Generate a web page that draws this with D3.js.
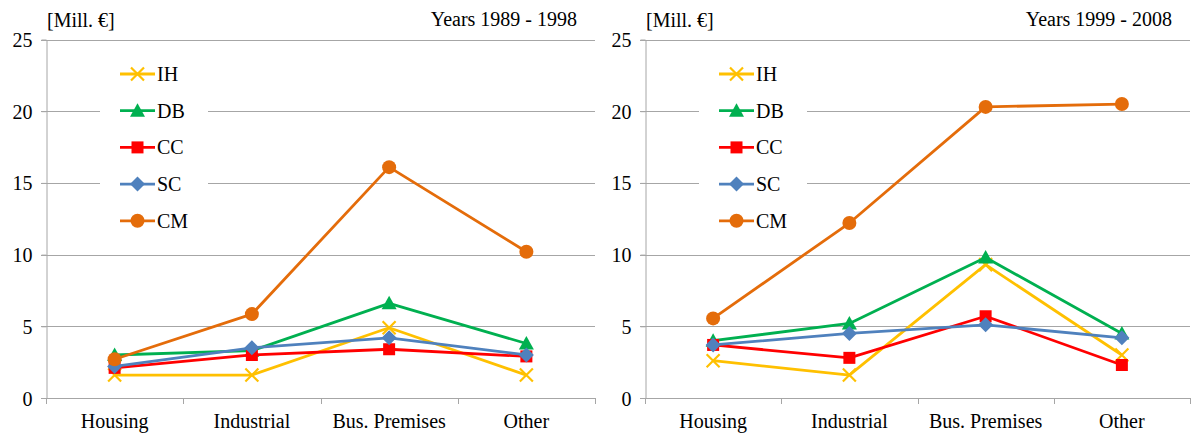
<!DOCTYPE html>
<html><head><meta charset="utf-8">
<script src="https://cdnjs.cloudflare.com/ajax/libs/d3/7.8.5/d3.min.js"></script>
<style>body{margin:0;background:#fff}svg{display:block}</style>
</head><body><svg id="c" width="1192" height="433"></svg>
<script>
const categories = ["Housing","Industrial","Bus. Premises","Other"];
const seriesNames = ["IH","DB","CC","SC","CM"];
const yTicks = [0,5,10,15,20,25];
const periods = ["Years 1989 - 1998","Years 1999 - 2008"];
// 1989-1998
const IH_1 = [1.6, 1.6, 4.9, 1.6];
const DB_1 = [3.0, 3.3, 6.6, 3.8];
const CC_1 = [2.1, 3.0, 3.4, 2.9];
const SC_1 = [2.2, 3.5, 4.2, 3.0];
const CM_1 = [2.7, 5.85, 16.1, 10.2];
// 1999-2008
const IH_2 = [2.6, 1.6, 9.3, 3.0];
const DB_2 = [4.0, 5.2, 9.8, 4.5];
const CC_2 = [3.7, 2.8, 5.7, 2.3];
const SC_2 = [3.7, 4.5, 5.1, 4.2];
const CM_2 = [5.55, 12.2, 20.3, 20.5];

const FONT = '"Liberation Serif", "Times New Roman", serif';
const colors = {IH:"#FFC000", DB:"#00B050", CC:"#FF0000", SC:"#4F81BD", CM:"#E46C0A"};

const panels = [
  {x0:46, x1:595, title:periods[0], data:{IH:IH_1,DB:DB_1,CC:CC_1,SC:SC_1,CM:CM_1}},
  {x0:645, x1:1190, title:periods[1], data:{IH:IH_2,DB:DB_2,CC:CC_2,SC:SC_2,CM:CM_2}}
];
const svg = d3.select("#c");
const yTop = 39.5, yBot = 398;

function marker(g, name, x, y){
  const c = colors[name];
  let d;
  if (name === "IH") {
    const s = 6.5;
    g.append("path").attr("d", `M${x-s},${y-s}L${x+s},${y+s}M${x-s},${y+s}L${x+s},${y-s}`)
      .attr("stroke", c).attr("stroke-width", 2.2).attr("fill","none");
    return;
  }
  if (name === "DB") { const s=7.5; d = `M${x},${y-s}L${x+s},${y+s*0.8}L${x-s},${y+s*0.8}Z`; }
  if (name === "CC") { const s=6; d = `M${x-s},${y-s}H${x+s}V${y+s}H${x-s}Z`; }
  if (name === "SC") { const s=7.5; d = `M${x},${y-s}L${x+s},${y}L${x},${y+s}L${x-s},${y}Z`; }
  if (name === "CM") { g.append("circle").attr("cx",x).attr("cy",y).attr("r",7).attr("fill",c); return; }
  g.append("path").attr("d", d).attr("fill", c);
}

function txt(g, x, y, s, anchor){
  return g.append("text").attr("x",x).attr("y",y).attr("text-anchor",anchor||"start")
    .style("font-family",FONT).style("font-size","20px").style("fill","#000").text(s);
}

panels.forEach(p => {
  const g = svg.append("g");
  const x = d3.scaleBand().domain(categories).range([p.x0, p.x1]);
  const y = d3.scaleLinear().domain([0,25]).range([yBot, yTop]);

  // gridlines
  g.append("g").selectAll("line").data(yTicks.filter(t=>t>0)).join("line")
    .attr("x1", p.x0-5).attr("x2", p.x1).attr("y1", d=>Math.round(y(d))+0.5).attr("y2", d=>Math.round(y(d))+0.5)
    .attr("stroke","#A6A6A6").attr("stroke-width",1);

  // y axis
  const ya = g.append("g").attr("transform", `translate(${p.x0+0.5},0)`)
    .call(d3.axisLeft(y).tickValues(yTicks).tickSize(5).tickPadding(9));
  ya.select(".domain").attr("stroke","#A6A6A6").attr("d", `M-5,${Math.round(yTop)+0.5}H0.5V${yBot}`);
  ya.selectAll(".tick line").attr("stroke","#A6A6A6");
  ya.selectAll(".tick text").style("font-family",FONT).style("font-size","20px").style("fill","#000").attr("dy","0.35em");

  // x axis
  const xa = g.append("g").attr("transform", `translate(0,${yBot+0.5})`)
    .call(d3.axisBottom(x).tickSize(0).tickPadding(15));
  xa.select(".domain").attr("stroke","#A6A6A6").attr("d", `M${p.x0-5},0H${p.x1}`);
  xa.selectAll(".tick text").style("font-family",FONT).style("font-size","20px").style("fill","#000");
  g.append("g").selectAll("line").data(d3.range(categories.length+1)).join("line")
    .attr("x1", i=>Math.round(p.x0 + i*x.bandwidth())+0.5).attr("x2", i=>Math.round(p.x0 + i*x.bandwidth())+0.5)
    .attr("y1", yBot).attr("y2", yBot+6).attr("stroke","#A6A6A6");

  // titles
  txt(g, p.x0+1, 27, "[Mill. €]");
  txt(g, p.x1-18, 26, p.title, "end");

  // legend
  const lg = g.append("g");
  lg.append("rect").attr("x", p.x0+54).attr("y", 56).attr("width", 108).attr("height", 182).attr("fill","#fff");
  seriesNames.forEach((n,i) => {
    const ly = 74 + i*36.7;
    lg.append("line").attr("x1", p.x0+74).attr("x2", p.x0+109).attr("y1", ly).attr("y2", ly)
      .attr("stroke", colors[n]).attr("stroke-width", 2.8);
    marker(lg, n, p.x0+91.5, ly);
    txt(lg, p.x0+111, ly+7, n);
  });

  // series
  const line = d3.line().x((d,i)=>x(categories[i])+x.bandwidth()/2).y(d=>y(d));
  seriesNames.forEach(n => {
    const vals = p.data[n];
    g.append("path").datum(vals).attr("d", line).attr("fill","none")
      .attr("stroke", colors[n]).attr("stroke-width", 2.8).attr("stroke-linejoin","round");
    vals.forEach((v,i) => marker(g, n, x(categories[i])+x.bandwidth()/2, y(v)));
  });
});
</script></body></html>
